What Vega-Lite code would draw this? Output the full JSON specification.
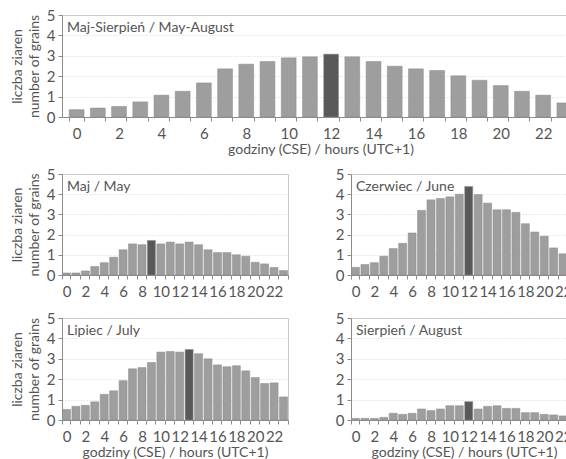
{
  "$schema": "https://vega.github.io/schema/vega-lite/v6.json",
  "autosize": {"type": "none"},
  "padding": {"left": 62, "top": 15, "right": 504, "bottom": 444},
  "background": "white",
  "datasets": {
    "all": [
      {"hour": 0, "n": 0.36}, {"hour": 1, "n": 0.44}, {"hour": 2, "n": 0.52}, {"hour": 3, "n": 0.74},
      {"hour": 4, "n": 1.07}, {"hour": 5, "n": 1.26}, {"hour": 6, "n": 1.67}, {"hour": 7, "n": 2.36},
      {"hour": 8, "n": 2.59}, {"hour": 9, "n": 2.72}, {"hour": 10, "n": 2.9}, {"hour": 11, "n": 2.95},
      {"hour": 12, "n": 3.08}, {"hour": 13, "n": 2.95}, {"hour": 14, "n": 2.72}, {"hour": 15, "n": 2.49},
      {"hour": 16, "n": 2.36}, {"hour": 17, "n": 2.28}, {"hour": 18, "n": 2.02}, {"hour": 19, "n": 1.8},
      {"hour": 20, "n": 1.54}, {"hour": 21, "n": 1.26}, {"hour": 22, "n": 1.07}, {"hour": 23, "n": 0.69}
    ],
    "may": [
      {"hour": 0, "n": 0.1}, {"hour": 1, "n": 0.1}, {"hour": 2, "n": 0.2}, {"hour": 3, "n": 0.42},
      {"hour": 4, "n": 0.61}, {"hour": 5, "n": 0.88}, {"hour": 6, "n": 1.25}, {"hour": 7, "n": 1.54},
      {"hour": 8, "n": 1.5}, {"hour": 9, "n": 1.71}, {"hour": 10, "n": 1.54}, {"hour": 11, "n": 1.63},
      {"hour": 12, "n": 1.54}, {"hour": 13, "n": 1.63}, {"hour": 14, "n": 1.5}, {"hour": 15, "n": 1.25},
      {"hour": 16, "n": 1.11}, {"hour": 17, "n": 1.11}, {"hour": 18, "n": 1.0}, {"hour": 19, "n": 0.93},
      {"hour": 20, "n": 0.63}, {"hour": 21, "n": 0.55}, {"hour": 22, "n": 0.37}, {"hour": 23, "n": 0.22}
    ],
    "june": [
      {"hour": 0, "n": 0.38}, {"hour": 1, "n": 0.52}, {"hour": 2, "n": 0.61}, {"hour": 3, "n": 0.93},
      {"hour": 4, "n": 1.31}, {"hour": 5, "n": 1.57}, {"hour": 6, "n": 2.08}, {"hour": 7, "n": 3.2},
      {"hour": 8, "n": 3.72}, {"hour": 9, "n": 3.79}, {"hour": 10, "n": 3.87}, {"hour": 11, "n": 4.0},
      {"hour": 12, "n": 4.38}, {"hour": 13, "n": 3.98}, {"hour": 14, "n": 3.56}, {"hour": 15, "n": 3.23},
      {"hour": 16, "n": 3.23}, {"hour": 17, "n": 3.1}, {"hour": 18, "n": 2.54}, {"hour": 19, "n": 2.13},
      {"hour": 20, "n": 1.92}, {"hour": 21, "n": 1.34}, {"hour": 22, "n": 1.05}, {"hour": 23, "n": 0.8}
    ],
    "july": [
      {"hour": 0, "n": 0.52}, {"hour": 1, "n": 0.67}, {"hour": 2, "n": 0.72}, {"hour": 3, "n": 0.89},
      {"hour": 4, "n": 1.26}, {"hour": 5, "n": 1.43}, {"hour": 6, "n": 1.93}, {"hour": 7, "n": 2.51},
      {"hour": 8, "n": 2.57}, {"hour": 9, "n": 2.82}, {"hour": 10, "n": 3.33}, {"hour": 11, "n": 3.36},
      {"hour": 12, "n": 3.33}, {"hour": 13, "n": 3.46}, {"hour": 14, "n": 3.25}, {"hour": 15, "n": 3.0},
      {"hour": 16, "n": 2.7}, {"hour": 17, "n": 2.61}, {"hour": 18, "n": 2.66}, {"hour": 19, "n": 2.41},
      {"hour": 20, "n": 2.08}, {"hour": 21, "n": 1.79}, {"hour": 22, "n": 1.82}, {"hour": 23, "n": 1.13}
    ],
    "aug": [
      {"hour": 0, "n": 0.08}, {"hour": 1, "n": 0.08}, {"hour": 2, "n": 0.08}, {"hour": 3, "n": 0.13},
      {"hour": 4, "n": 0.33}, {"hour": 5, "n": 0.28}, {"hour": 6, "n": 0.33}, {"hour": 7, "n": 0.54},
      {"hour": 8, "n": 0.46}, {"hour": 9, "n": 0.54}, {"hour": 10, "n": 0.7}, {"hour": 11, "n": 0.7},
      {"hour": 12, "n": 0.9}, {"hour": 13, "n": 0.54}, {"hour": 14, "n": 0.67}, {"hour": 15, "n": 0.7},
      {"hour": 16, "n": 0.57}, {"hour": 17, "n": 0.57}, {"hour": 18, "n": 0.36}, {"hour": 19, "n": 0.36},
      {"hour": 20, "n": 0.28}, {"hour": 21, "n": 0.25}, {"hour": 22, "n": 0.2}, {"hour": 23, "n": 0.15}
    ]
  },
  "config": {
    "font": "Lato",
    "view": {"stroke": "#c8c8c8", "strokeWidth": 1},
    "bar": {"stroke": "#8a8a8a", "strokeWidth": 0.5},
    "axis": {
      "labelFont": "Lato", "labelFontSize": 15, "labelColor": "#555555",
      "titleFont": "Lato", "titleFontSize": 14, "titleFontWeight": "normal", "titleColor": "#555555",
      "domainColor": "#8c8c8c", "tickColor": "#8c8c8c", "tickSize": 4, "labelPadding": 3
    },
    "axisX": {"grid": false, "labelAngle": 0, "tickBand": "extent", "labelExpr": "datum.value % 2 == 0 ? datum.label : ''", "titlePadding": 1, "labelPadding": 5},
    "axisY": {"grid": true, "gridColor": "#d4d4d4", "gridDash": [1, 2], "titlePadding": 5, "titleLineHeight": 17},
    "title": {"anchor": "start", "frame": "group", "offset": -27, "dx": 5, "fontSize": 14, "fontWeight": "normal", "color": "#555555", "font": "Lato"}
  },
  "bounds": "flush",
  "spacing": 57,
  "vconcat": [
    {
      "data": {"name": "all"},
      "width": 517, "height": 102,
      "title": "Maj-Sierpień / May-August",
      "transform": [{"joinaggregate": [{"op": "max", "field": "n", "as": "maxN"}]}],
      "mark": {"type": "bar"},
      "encoding": {
        "x": {"field": "hour", "type": "ordinal", "scale": {"paddingInner": 0.3, "paddingOuter": 0.34}, "axis": {"title": "godziny (CSE) / hours (UTC+1)"}},
        "y": {"field": "n", "type": "quantitative", "scale": {"domain": [0, 5]}, "axis": {"values": [0, 1, 2, 3, 4, 5], "title": ["liczba ziaren", "number of grains"]}},
        "color": {"condition": {"test": "datum.n == datum.maxN", "value": "#595959"}, "value": "#9e9e9e"}
      }
    },
    {
      "bounds": "flush",
      "columns": 2,
      "spacing": {"row": 43, "column": 63},
      "concat": [
        {
          "data": {"name": "may"},
          "width": 226, "height": 101,
          "title": "Maj / May",
          "transform": [{"joinaggregate": [{"op": "max", "field": "n", "as": "maxN"}]}],
          "mark": {"type": "bar"},
          "encoding": {
            "x": {"field": "hour", "type": "ordinal", "scale": {"paddingInner": 0.15, "paddingOuter": 0.05}, "axis": {"title": null}},
            "y": {"field": "n", "type": "quantitative", "scale": {"domain": [0, 5]}, "axis": {"values": [0, 1, 2, 3, 4, 5], "title": ["liczba ziaren", "number of grains"]}},
            "color": {"condition": {"test": "datum.n == datum.maxN", "value": "#595959"}, "value": "#9e9e9e"}
          }
        },
        {
          "data": {"name": "june"},
          "width": 226, "height": 101,
          "title": "Czerwiec / June",
          "transform": [{"joinaggregate": [{"op": "max", "field": "n", "as": "maxN"}]}],
          "mark": {"type": "bar"},
          "encoding": {
            "x": {"field": "hour", "type": "ordinal", "scale": {"paddingInner": 0.15, "paddingOuter": 0.05}, "axis": {"title": null}},
            "y": {"field": "n", "type": "quantitative", "scale": {"domain": [0, 5]}, "axis": {"values": [0, 1, 2, 3, 4, 5], "title": null}},
            "color": {"condition": {"test": "datum.n == datum.maxN", "value": "#595959"}, "value": "#9e9e9e"}
          }
        },
        {
          "data": {"name": "july"},
          "width": 226, "height": 102,
          "title": "Lipiec / July",
          "transform": [{"joinaggregate": [{"op": "max", "field": "n", "as": "maxN"}]}],
          "mark": {"type": "bar"},
          "encoding": {
            "x": {"field": "hour", "type": "ordinal", "scale": {"paddingInner": 0.15, "paddingOuter": 0.05}, "axis": {"title": "godziny (CSE) / hours (UTC+1)"}},
            "y": {"field": "n", "type": "quantitative", "scale": {"domain": [0, 5]}, "axis": {"values": [0, 1, 2, 3, 4, 5], "title": ["liczba ziaren", "number of grains"]}},
            "color": {"condition": {"test": "datum.n == datum.maxN", "value": "#595959"}, "value": "#9e9e9e"}
          }
        },
        {
          "data": {"name": "aug"},
          "width": 226, "height": 102,
          "title": "Sierpień / August",
          "transform": [{"joinaggregate": [{"op": "max", "field": "n", "as": "maxN"}]}],
          "mark": {"type": "bar"},
          "encoding": {
            "x": {"field": "hour", "type": "ordinal", "scale": {"paddingInner": 0.15, "paddingOuter": 0.05}, "axis": {"title": "godziny (CSE) / hours (UTC+1)"}},
            "y": {"field": "n", "type": "quantitative", "scale": {"domain": [0, 5]}, "axis": {"values": [0, 1, 2, 3, 4, 5], "title": null}},
            "color": {"condition": {"test": "datum.n == datum.maxN", "value": "#595959"}, "value": "#9e9e9e"}
          }
        }
      ]
    }
  ]
}
